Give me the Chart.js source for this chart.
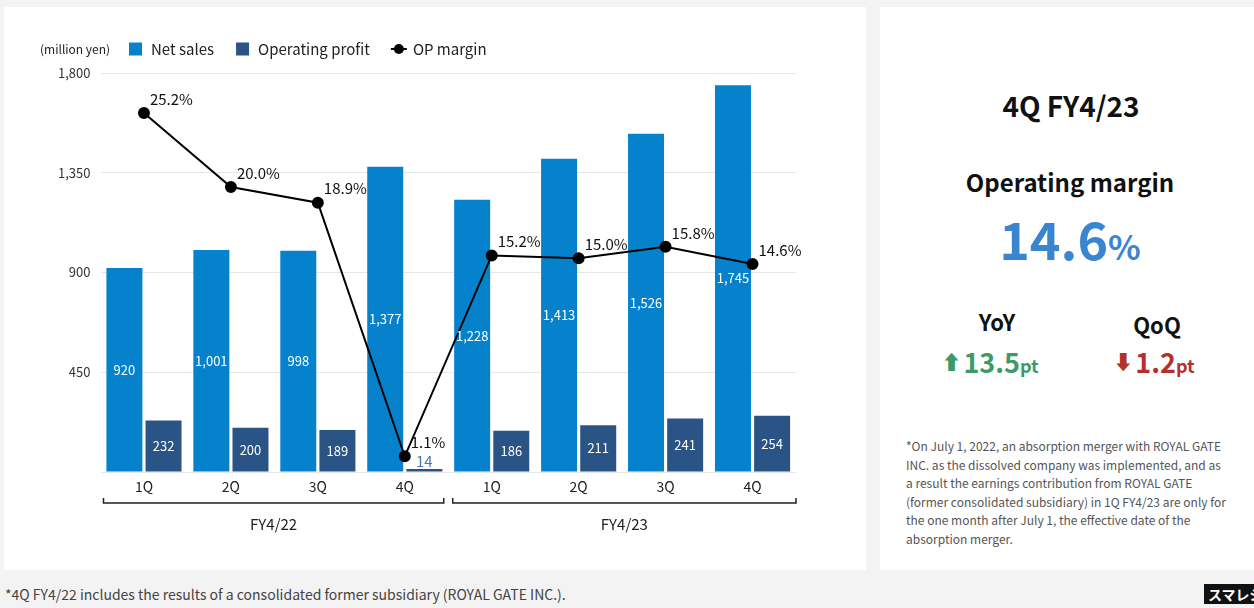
<!DOCTYPE html>
<html>
<head>
<meta charset="utf-8">
<script src="https://cdn.jsdelivr.net/npm/chart.js@4/dist/chart.umd.min.js"></script>
<style>
  html, body { margin: 0; padding: 0; }
  body { width: 1254px; height: 608px; background: #f3f3f3; position: relative; overflow: hidden;
         font-family: "Noto Sans CJK JP", "Noto Sans", sans-serif; }
  .panel { position: absolute; background: #ffffff; }
  #left { left: 4px; top: 7px; width: 862px; height: 563px; }
  #right { left: 880px; top: 7px; width: 380px; height: 563px; }
  #chartBox { position: absolute; left: 0; top: 0; width: 862px; height: 563px; }
  .abs { position: absolute; white-space: nowrap; }
  .center { transform: translateX(-50%); text-align: center; }
  #period { left: 191px; top: 78px; font-size: 28px; font-weight: 700; color: #111; }
  #omTitle { left: 190px; top: 157px; font-size: 24px; font-weight: 700; color: #111; }
  #omValue { left: 190px; top: 193px; font-size: 52px; font-weight: 700; color: #3a85cf; line-height: 76px; }
  #omValue small { font-size: 34px; }
  #yoyT { left: 117px; top: 298px; font-size: 22px; font-weight: 700; color: #111; }
  #qoqT { left: 277px; top: 301px; font-size: 22px; font-weight: 700; color: #111; }
  #yoyV { left: 110px; top: 335px; font-size: 27px; font-weight: 700; color: #3c9a66; }
  #qoqV { left: 274px; top: 335px; font-size: 27px; font-weight: 700; color: #b3302c; }
  .unit { font-size: 18px; }
  .arrow { font-size: 20px; vertical-align: 3px; margin-right: 2px; }
  #note { left: 26px; top: 430px; font-size: 12px; line-height: 18.6px; color: #555; }
  #foot { left: 5px; top: 584px; font-size: 14px; color: #444; }
  #logo { left: 1204px; top: 584px; height: 20px; padding: 0 4px; background: #111; color: #fff;
          font-size: 14px; font-weight: 700; line-height: 20px; }
</style>
</head>
<body>
<div class="panel" id="left"><div id="chartBox"><canvas id="c"></canvas></div></div>
<div class="panel" id="right">
  <div class="abs center" id="period">4Q FY4/23</div>
  <div class="abs center" id="omTitle">Operating margin</div>
  <div class="abs center" id="omValue">14.6<small>%</small></div>
  <div class="abs center" id="yoyT">YoY</div>
  <div class="abs center" id="qoqT">QoQ</div>
  <div class="abs center" id="yoyV"><span class="arrow">&#x2B06;</span>13.5<span class="unit">pt</span></div>
  <div class="abs center" id="qoqV"><span class="arrow">&#x2B07;</span>1.2<span class="unit">pt</span></div>
  <div class="abs" id="note">*On July 1, 2022, an absorption merger with ROYAL GATE<br>INC. as the dissolved company was implemented, and as<br>a result the earnings contribution from ROYAL GATE<br>(former consolidated subsidiary) in 1Q FY4/23 are only for<br>the one month after July 1, the effective date of the<br>absorption merger.</div>
</div>
<div class="abs" id="foot">*4Q FY4/22 includes the results of a consolidated former subsidiary (ROYAL GATE INC.).</div>
<div class="abs" id="logo">スマレジ</div>

<script>
// Quarterly results, million yen
const quarters = ['1Q', '2Q', '3Q', '4Q', '1Q', '2Q', '3Q', '4Q'];
const fiscalYears = ['FY4/22', 'FY4/23'];
const netSales = [920, 1001, 998, 1377, 1228, 1413, 1526, 1745];
const operatingProfit = [232, 200, 189, 14, 186, 211, 241, 254];
const opMargin = [25.2, 20.0, 18.9, 1.1, 15.2, 15.0, 15.8, 14.6];
const yTicks = [0, 450, 900, 1350, 1800];

const FONT = '"Noto Sans CJK JP", "Noto Sans", sans-serif';
const fmt = v => v.toLocaleString('en-US');

// Legend row, drawn above the plot area
const legendRow = {
  id: 'legendRow',
  afterDraw(chart) {
    const ctx = chart.ctx;
    const y = 42;
    ctx.save();
    ctx.textBaseline = 'middle';
    ctx.fillStyle = '#222';
    ctx.font = '12px ' + FONT;
    ctx.fillText('(million yen)', 36, y);
    ctx.font = '15px ' + FONT;
    let x = 125;
    chart.data.datasets.forEach(ds => {
      if (ds.type === 'line') {
        ctx.strokeStyle = ds.borderColor;
        ctx.lineWidth = 2;
        ctx.beginPath(); ctx.moveTo(x - 1, y); ctx.lineTo(x + 15, y); ctx.stroke();
        ctx.fillStyle = ds.pointBackgroundColor;
        ctx.beginPath(); ctx.arc(x + 7, y, 5, 0, Math.PI * 2); ctx.fill();
        x += 15 + 6;
      } else {
        ctx.fillStyle = ds.backgroundColor;
        ctx.fillRect(x, y - 6.5, 13, 13);
        x += 13 + 9;
      }
      ctx.fillStyle = '#222';
      ctx.fillText(ds.label, x, y);
      x += ctx.measureText(ds.label).width + 22;
    });
    ctx.restore();
  }
};

// Value labels on bars and line points
const valueLabels = {
  id: 'valueLabels',
  afterDatasetsDraw(chart) {
    const ctx = chart.ctx;
    ctx.save();
    chart.data.datasets.forEach((ds, di) => {
      const meta = chart.getDatasetMeta(di);
      meta.data.forEach((el, i) => {
        const v = ds.data[i];
        if (ds.type === 'line') {
          ctx.font = '15px ' + FONT;
          ctx.fillStyle = '#111';
          ctx.textAlign = 'left';
          ctx.textBaseline = 'middle';
          ctx.fillText(v.toFixed(1) + '%', el.x + 6, el.y - 14);
        } else {
          ctx.textAlign = 'center';
          ctx.textBaseline = 'middle';
          const h = el.base - el.y;
          if (h > 30) {
            ctx.font = '13px ' + FONT;
            ctx.fillStyle = '#ffffff';
            ctx.fillText(fmt(v), el.x, (el.y + el.base) / 2);
          } else {
            ctx.font = '15px ' + FONT;
            ctx.fillStyle = '#4a78b2';
            ctx.fillText(fmt(v), el.x, el.y - 8);
          }
        }
      });
    });
    ctx.restore();
  }
};

// Fiscal-year brackets under the quarter labels
const yearBrackets = {
  id: 'yearBrackets',
  afterDraw(chart) {
    const ctx = chart.ctx;
    const xs = chart.scales.x;
    const step = xs.getPixelForValue(1) - xs.getPixelForValue(0);
    const by = 496;
    ctx.save();
    ctx.strokeStyle = '#222';
    ctx.lineWidth = 1.5;
    ctx.font = '15px ' + FONT;
    ctx.fillStyle = '#222';
    ctx.textAlign = 'center';
    ctx.textBaseline = 'middle';
    fiscalYears.forEach((fy, g) => {
      const first = g * 4, last = g * 4 + 3;
      const x0 = xs.getPixelForValue(first) - step / 2 + (g === 0 ? 3 : 4.5);
      const x1 = xs.getPixelForValue(last) + step / 2 - (g === 0 ? 4.5 : 0);
      ctx.beginPath();
      ctx.moveTo(x0, by - 5); ctx.lineTo(x0, by); ctx.lineTo(x1, by); ctx.lineTo(x1, by - 5);
      ctx.stroke();
      ctx.fillText(fy, (x0 + x1) / 2, by + 21);
    });
    ctx.restore();
  }
};

new Chart(document.getElementById('c'), {
  data: {
    labels: quarters,
    datasets: [
      {
        type: 'bar', label: 'Net sales', data: netSales, yAxisID: 'y',
        backgroundColor: '#0682cd', order: 1,
        categoryPercentage: 0.9, barPercentage: 0.92
      },
      {
        type: 'bar', label: 'Operating profit', data: operatingProfit, yAxisID: 'y',
        backgroundColor: '#2a5386', order: 1,
        categoryPercentage: 0.9, barPercentage: 0.92
      },
      {
        type: 'line', label: 'OP margin', data: opMargin, yAxisID: 'y1',
        borderColor: '#000', borderWidth: 2, pointRadius: 5, pointHoverRadius: 5,
        pointBackgroundColor: '#000', pointBorderColor: '#000', order: 0
      }
    ]
  },
  options: {
    responsive: true,
    maintainAspectRatio: false,
    animation: false,
    layout: { padding: { top: 66, right: 70, left: 0, bottom: 0 } },
    plugins: { legend: { display: false }, tooltip: { enabled: false } },
    scales: {
      x: {
        grid: { display: false, drawTicks: false },
        border: { display: false },
        ticks: { padding: 6, color: '#222', font: { family: FONT, size: 14 } },
        afterFit: s => { s.height = 98; }
      },
      y: {
        min: 0, max: 1800,
        afterBuildTicks: s => { s.ticks = yTicks.map(v => ({ value: v })); },
        grid: { color: '#e6e6e6', lineWidth: 1, drawTicks: false },
        border: { display: false },
        ticks: { padding: 10, color: '#333', font: { family: FONT, size: 13 },
                 callback: v => v === 0 ? '' : fmt(v) },
        afterFit: s => { s.width = 96.5; }
      },
      y1: { min: 0, max: 28, display: false }
    }
  },
  plugins: [legendRow, valueLabels, yearBrackets]
});
</script>
</body>
</html>
